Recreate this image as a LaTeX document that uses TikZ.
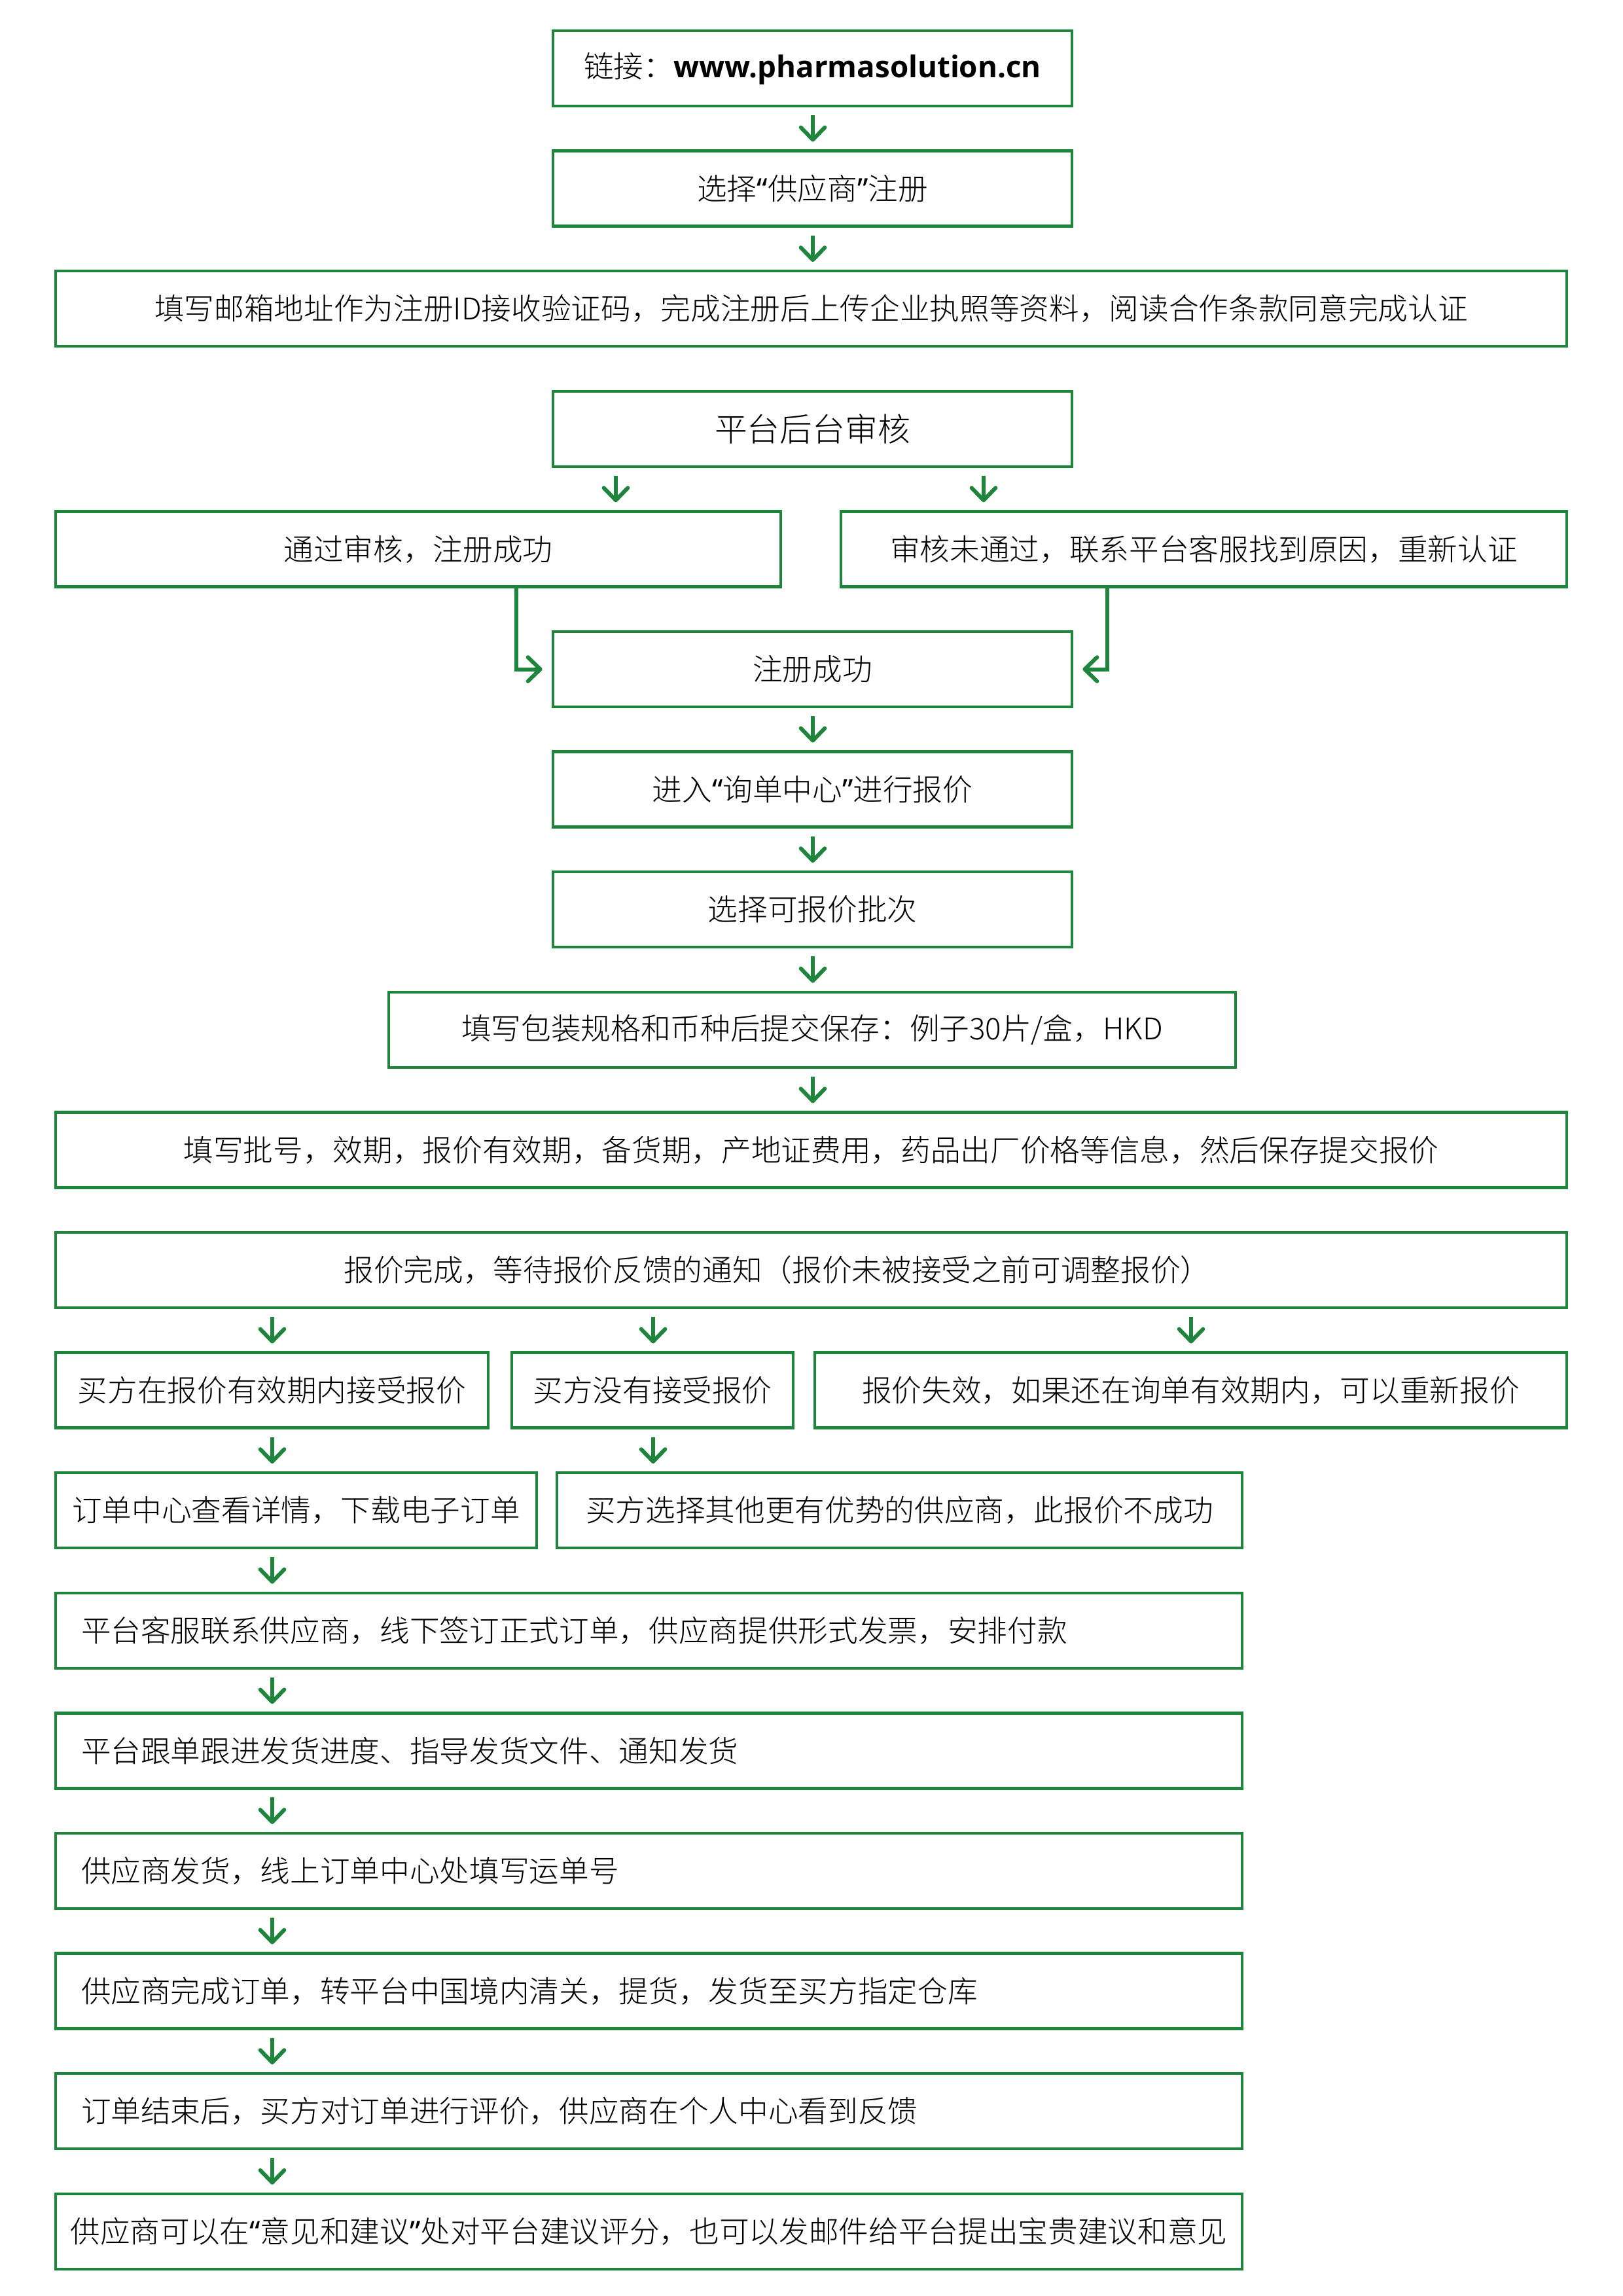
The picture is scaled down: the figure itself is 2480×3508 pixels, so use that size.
\documentclass[tikz,border=0pt]{standalone}
\usepackage{fontspec}
\IfFontExistsTF{Noto Sans CJK SC Light}
  {\newfontfamily\cjk{Noto Sans CJK SC Light}}
  {\newfontfamily\cjk{Noto Sans CJK SC}}
\newfontfamily\urlfont{Open Sans}
\newfontfamily\latq{Noto Sans}
\newcommand\oq{{\latq “}}
\newcommand\cq{{\latq ”}}
\usetikzlibrary{arrows.meta}
\definecolor{fg}{RGB}{31,133,60}
\newcommand\bx[6][]{\node[box,minimum width={(#4-#3)*0.084667mm},#1] (#2) at ({(#3+#4)/2},{104.5+183.6*#5}) {#6};}
\begin{document}
\begin{tikzpicture}[x=0.084667mm,y=-0.084667mm,
  box/.style={draw=fg,line width=1.08pt,fill=white,minimum height={115*0.084667mm},inner sep=0pt,
    font=\cjk\fontsize{11pt}{13pt}\selectfont,text=black,align=center},
  lbox/.style={align=left,inner xsep={39*0.084667mm},text width={1735*0.084667mm}},
  arr/.style={draw=fg,line width=1.45pt,-{Straight Barb[length=1.6mm,width=3.1mm,round]},
    shorten <=1mm,shorten >=1mm},
  elb/.style={arr,shorten <=0pt,shorten >=1.2mm}]
\useasboundingbox (0,0) rectangle (2480,3508);
% boxes
\bx{b1}{845}{1638}{0}{链接：{\urlfont\bfseries www.pharmasolution.cn}}
\bx{b2}{845}{1638}{1}{选择\oq 供应商\cq 注册}
\bx{b3}{85}{2394}{2}{填写邮箱地址作为注册ID接收验证码，完成注册后上传企业执照等资料，阅读合作条款同意完成认证}
\bx[font=\cjk\fontsize{12pt}{14pt}\selectfont]{b4}{845}{1638}{3}{平台后台审核}
\bx{b5}{85}{1193}{4}{通过审核，注册成功}
\bx{b6}{1285}{2394}{4}{审核未通过，联系平台客服找到原因，重新认证}
\bx{b7}{845}{1638}{5}{注册成功}
\bx{b8}{845}{1638}{6}{进入\oq 询单中心\cq 进行报价}
\bx{b9}{845}{1638}{7}{选择可报价批次}
\bx{b10}{594}{1888}{8}{填写包装规格和币种后提交保存：例子30片/盒，HKD}
\bx{b11}{85}{2394}{9}{填写批号，效期，报价有效期，备货期，产地证费用，药品出厂价格等信息，然后保存提交报价}
\bx{b12}{85}{2394}{10}{报价完成，等待报价反馈的通知（报价未被接受之前可调整报价）\hspace*{8.8mm}}
\bx{b13}{85}{746}{11}{买方在报价有效期内接受报价}
\bx{b14}{782}{1212}{11}{买方没有接受报价}
\bx{b15}{1245}{2394}{11}{报价失效，如果还在询单有效期内，可以重新报价}
\bx{b16}{85}{820}{12}{订单中心查看详情，下载电子订单}
\bx{b17}{851}{1898}{12}{买方选择其他更有优势的供应商，此报价不成功}
\bx[lbox]{b18}{85}{1898}{13}{平台客服联系供应商，线下签订正式订单，供应商提供形式发票，安排付款}
\bx[lbox]{b19}{85}{1898}{14}{平台跟单跟进发货进度、指导发货文件、通知发货}
\bx[lbox]{b20}{85}{1898}{15}{供应商发货，线上订单中心处填写运单号}
\bx[lbox]{b21}{85}{1898}{16}{供应商完成订单，转平台中国境内清关，提货，发货至买方指定仓库}
\bx[lbox]{b22}{85}{1898}{17}{订单结束后，买方对订单进行评价，供应商在个人中心看到反馈}
\bx{b23}{85}{1898}{18}{供应商可以在\oq 意见和建议\cq 处对平台建议评分，也可以发邮件给平台提出宝贵建议和意见}
% helper columns
\coordinate (c0) at (1242,0);
\coordinate (xa) at (941,0);
\coordinate (xb) at (1503,0);
\coordinate (e1) at (789,0);
\coordinate (e2) at (1692,0);
\coordinate (p1) at (416,0);
\coordinate (p2) at (998,0);
\coordinate (p3) at (1820,0);
% connectors
\draw[arr] (b1.south -| c0) -- (b2.north -| c0);
\draw[arr] (b2.south -| c0) -- (b3.north -| c0);
\draw[arr] (b4.south -| xa) -- (b5.north -| xa);
\draw[arr] (b4.south -| xb) -- (b6.north -| xb);
\draw[elb] (b5.south -| e1) |- (b7.west);
\draw[elb] (b6.south -| e2) |- (b7.east);
\draw[arr] (b7.south -| c0) -- (b8.north -| c0);
\draw[arr] (b8.south -| c0) -- (b9.north -| c0);
\draw[arr] (b9.south -| c0) -- (b10.north -| c0);
\draw[arr] (b10.south -| c0) -- (b11.north -| c0);
\draw[arr] (b12.south -| p1) -- (b13.north -| p1);
\draw[arr] (b12.south -| p2) -- (b14.north -| p2);
\draw[arr] (b12.south -| p3) -- (b15.north -| p3);
\draw[arr] (b13.south -| p1) -- (b16.north -| p1);
\draw[arr] (b14.south -| p2) -- (b17.north -| p2);
\draw[arr] (b16.south -| p1) -- (b18.north -| p1);
\draw[arr] (b18.south -| p1) -- (b19.north -| p1);
\draw[arr] (b19.south -| p1) -- (b20.north -| p1);
\draw[arr] (b20.south -| p1) -- (b21.north -| p1);
\draw[arr] (b21.south -| p1) -- (b22.north -| p1);
\draw[arr] (b22.south -| p1) -- (b23.north -| p1);
\end{tikzpicture}
\end{document}
